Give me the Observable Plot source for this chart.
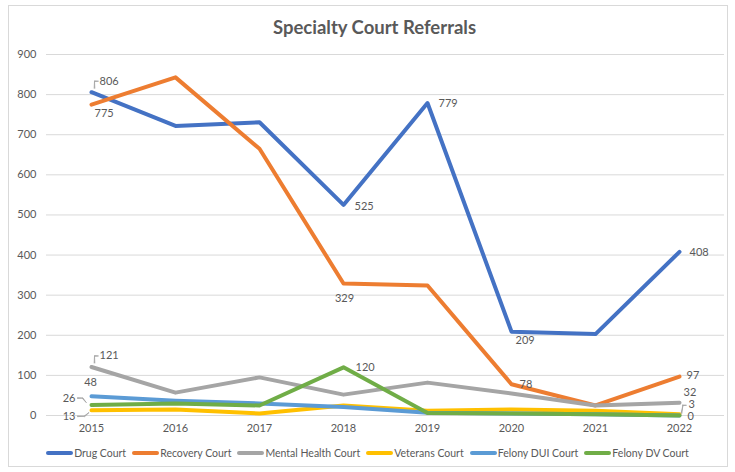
<!DOCTYPE html>
<html>
<head>
<meta charset="utf-8">
<script src="https://cdn.jsdelivr.net/npm/d3@7"></script>
<script src="https://cdn.jsdelivr.net/npm/@observablehq/plot@0.6"></script>
<style>
  body { margin: 0; background: #fff; font-family: Lato, "Open Sans", sans-serif; }
  #wrap { position: relative; width: 735px; height: 472px; overflow: hidden; }
  #frame { position: absolute; left: 8px; top: 5px; width: 720px; height: 462px; border: 1px solid #d9d9d9; box-sizing: border-box; }
  #title { position: absolute; left: 7px; width: 735px; top: 16px; text-align: center; font-size: 18.5px; font-weight: bold; color: #595959; }
  #chart { position: absolute; left: 0; top: 0; }
  #legend { position: absolute; left: 0; width: 735px; top: 447px; display: flex; justify-content: center; gap: 6px; font-size: 10.5px; color: #595959; }
  .item { display: flex; align-items: center; }
  .sw { width: 27px; height: 4px; margin-right: 1px; border-radius: 2px; }
</style>
</head>
<body>
<div id="wrap">
  <div id="frame"></div>
  <div id="chart"></div>
  <div id="title">Specialty Court Referrals</div>
  <div id="legend"></div>
</div>
<script>
const years = [2015, 2016, 2017, 2018, 2019, 2020, 2021, 2022];
const seriesNames = ["Drug Court", "Recovery Court", "Mental Health Court", "Veterans Court", "Felony DUI Court", "Felony DV Court"];
const colors = ["#4472C4", "#ED7D31", "#A5A5A5", "#FFC000", "#5B9BD5", "#70AD47"];
const drugCourt = [806, 722, 731, 525, 779, 209, 203, 408];
const recoveryCourt = [775, 843, 665, 329, 324, 78, 25, 97];
const mentalHealthCourt = [121, 57, 95, 52, 82, 55, 25, 32];
const veteransCourt = [13, 15, 5, 25, 12, 15, 12, 3];
const felonyDUICourt = [48, 37, 30, 21, 7, 5, 3, 0];
const felonyDVCourt = [26, 30, 25, 120, 6, 5, 3, 0];
const yTicks = [0, 100, 200, 300, 400, 500, 600, 700, 800, 900];

const seriesValues = [drugCourt, recoveryCourt, mentalHealthCourt, veteransCourt, felonyDUICourt, felonyDVCourt];
const data = [];
seriesNames.forEach((s, i) => years.forEach((y, j) => data.push({series: s, year: y, value: seriesValues[i][j]})));

const txt = "#595959";
const pick = (series, year) => data.filter(d => d.series === series && d.year === year);
function label(series, year, dx, dy, anchor = "middle") {
  return Plot.text(pick(series, year), {
    x: "year", y: "value", text: d => String(d.value), dx, dy, textAnchor: anchor,
    fill: txt, fontSize: 11
  });
}
// small leader line segments: [dx, dy, length, rotate]
function leader(series, year, segs) {
  return segs.map(([dx, dy, length, rotate]) => Plot.vector(pick(series, year), {
    x: "year", y: "value", dx, dy, length, rotate, anchor: "start",
    shape: "spike", r: 0.35, stroke: "#a6a6a6", fill: "#a6a6a6", strokeWidth: 0.8
  }));
}

const chart = Plot.plot({
  width: 735,
  height: 440,
  marginLeft: 46,
  marginRight: 11,
  marginTop: 54,
  marginBottom: 25,
  style: { fontFamily: "Lato, 'Open Sans', sans-serif", fontSize: "11px", color: txt, background: "transparent" },
  x: { type: "point", domain: years, padding: 0.5 },
  y: { domain: [0, 900] },
  color: { domain: seriesNames, range: colors },
  marks: [
    Plot.gridY(yTicks, { stroke: "#d9d9d9", strokeOpacity: 1 }),
    Plot.axisY(yTicks, { tickSize: 0, tickPadding: 10, label: null, fill: txt }),
    Plot.axisX({ tickSize: 0, tickPadding: 9, label: null, tickFormat: d => String(d), fill: txt }),
    Plot.line(data, { x: "year", y: "value", z: "series", stroke: "series", strokeWidth: 4, strokeLinejoin: "round", strokeLinecap: "round" }),
    ...leader("Drug Court", 2015, [[3, -4, 7, 0], [3, -11, 4, 90]]),
    ...leader("Mental Health Court", 2015, [[3, -4, 7, 0], [3, -11, 4, 90]]),
    ...leader("Felony DV Court", 2015, [[-14, -7, 5, 90], [-9, -7, 6, 140]]),
    ...leader("Veterans Court", 2015, [[-14, 6, 7, 90], [-7, 6, 6, 50]]),
    ...leader("Veterans Court", 2022, [[2, -1, 8, 10], [3, -9, 4, 90]]),
    label("Drug Court", 2015, 8, -11, "start"),
    label("Drug Court", 2018, 11, 2, "start"),
    label("Drug Court", 2019, 11, 0, "start"),
    label("Drug Court", 2020, 4, 9, "start"),
    label("Drug Court", 2022, 10, 1, "start"),
    label("Recovery Court", 2015, 3, 9, "start"),
    label("Recovery Court", 2018, 1, 15),
    label("Recovery Court", 2020, 8, 0, "start"),
    label("Recovery Court", 2022, 7, -1, "start"),
    label("Mental Health Court", 2015, 8, -11, "start"),
    label("Mental Health Court", 2022, 4, -10, "start"),
    label("Felony DUI Court", 2015, -1, -14),
    label("Felony DV Court", 2015, -16, -7, "end"),
    label("Veterans Court", 2015, -16, 6, "end"),
    label("Felony DV Court", 2018, 12, 0, "start"),
    label("Veterans Court", 2022, 9, -10, "start"),
    label("Felony DV Court", 2022, 8, 1, "start")
  ]
});
document.getElementById("chart").appendChild(chart);

const legend = document.getElementById("legend");
seriesNames.forEach((s, i) => {
  const it = document.createElement("div");
  it.className = "item";
  const sw = document.createElement("div");
  sw.className = "sw";
  sw.style.background = colors[i];
  const t = document.createElement("span");
  t.textContent = s;
  it.appendChild(sw); it.appendChild(t);
  legend.appendChild(it);
});
</script>
</body>
</html>
